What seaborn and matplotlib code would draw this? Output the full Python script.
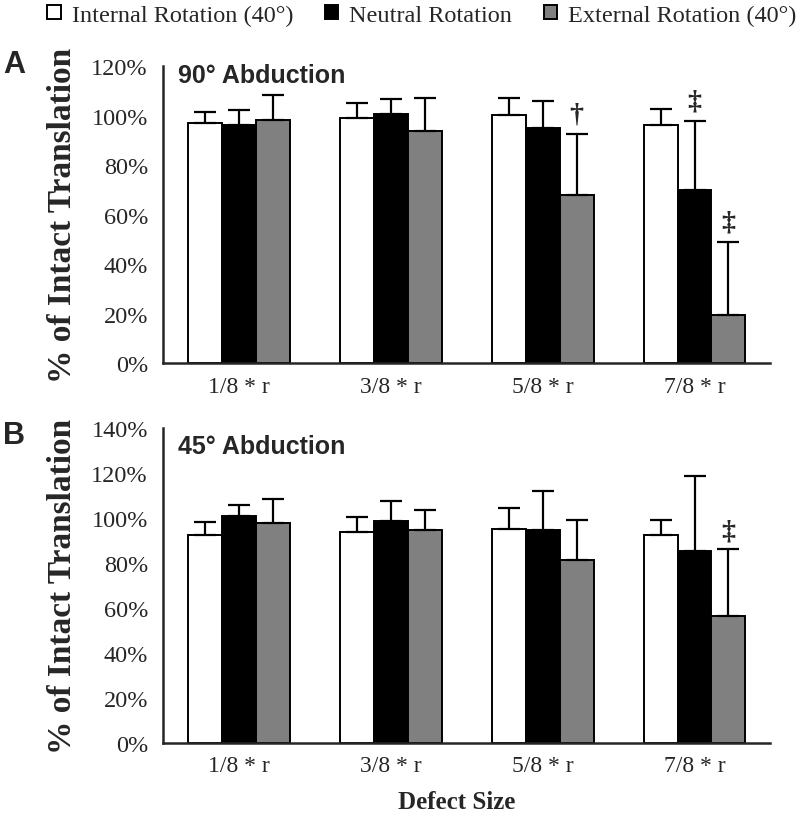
import numpy as np
import pandas as pd
import seaborn as sns
import matplotlib.pyplot as plt
from matplotlib.patches import Patch
from matplotlib.ticker import FixedLocator, PercentFormatter

sizes = ['1/8 * r', '3/8 * r', '5/8 * r', '7/8 * r']
rotations = ['Internal Rotation (40°)', 'Neutral Rotation', 'External Rotation (40°)']
colors = ['white', 'black', '#808080']

# Panel A - 90° abduction, mean and SD (% of intact translation)
abd90_internal = [97.0, 99.0, 100.3, 96.4]
abd90_neutral = [96.2, 100.6, 95.0, 70.0]
abd90_external = [98.2, 93.7, 67.8, 19.5]
abd90_internal_sd = [4.6, 6.0, 6.8, 6.4]
abd90_neutral_sd = [6.0, 6.0, 11.0, 28.0]
abd90_external_sd = [10.0, 13.5, 25.0, 29.5]
abd90_internal_sig = ['', '', '', '']
abd90_neutral_sig = ['', '', '', '‡']
abd90_external_sig = ['', '', '†', '‡']

# Panel B - 45° abduction
abd45_internal = [92.6, 93.9, 95.1, 92.4]
abd45_neutral = [100.7, 98.6, 94.7, 85.5]
abd45_external = [97.9, 94.5, 81.3, 56.4]
abd45_internal_sd = [5.6, 6.4, 9.2, 6.7]
abd45_neutral_sd = [5.3, 9.0, 17.4, 33.2]
abd45_external_sd = [10.5, 9.2, 17.8, 30.0]
abd45_internal_sig = ['', '', '', '']
abd45_neutral_sig = ['', '', '', '']
abd45_external_sig = ['', '', '', '‡']

serif = 'Liberation Serif'
sans = 'Liberation Sans'


def draw_panel(ax, means, sds, sigs, ymax, title):
    df = pd.DataFrame({
        'size': np.tile(sizes, 3),
        'rotation': np.repeat(rotations, 4),
        'value': np.concatenate(means),
    })
    sns.barplot(data=df, x='size', y='value', hue='rotation', order=sizes,
                hue_order=rotations, palette=colors, saturation=1, width=0.67,
                gap=0, edgecolor='black', linewidth=1.4, errorbar=None,
                legend=False, ax=ax)
    for cont, m, sd, sg in zip(ax.containers, means, sds, sigs):
        xs = [b.get_x() + b.get_width() / 2 for b in cont]
        ax.errorbar(xs, m, yerr=[np.zeros(len(m)), sd], fmt='none',
                    ecolor='black', elinewidth=1.6, capsize=8, capthick=1.6,
                    zorder=1)
        for x, top, s in zip(xs, np.add(m, sd), sg):
            if s:
                ax.text(x, top + 8, s, ha='center', va='center',
                        fontsize=20, fontweight='bold', family=serif)

    ax.set_xlim(-0.5, 3.5)
    ax.set_ylim(0, ymax)
    ax.set_yticks(np.arange(0, ymax + 1, 20))
    ax.yaxis.set_major_formatter(PercentFormatter(decimals=0))
    ax.xaxis.set_minor_locator(FixedLocator(np.arange(-0.5, 4, 1)))
    ax.tick_params(axis='x', which='major', length=0, pad=9, labelsize=17)
    ax.tick_params(axis='x', which='minor', length=5, width=1.8, direction='out')
    ax.tick_params(axis='y', length=5, width=1.8, pad=6, labelsize=17.5)
    for side in ['top', 'right']:
        ax.spines[side].set_visible(False)
    for side in ['left', 'bottom']:
        ax.spines[side].set_linewidth(1.8)
    ax.set_xlabel('')
    ax.set_ylabel('% of Intact Translation', fontsize=24, fontweight='bold')
    ax.yaxis.set_label_coords(-0.14, 0.5)
    ax.text(0.025, 1.01 if ymax == 120 else 0.98, title, transform=ax.transAxes,
            ha='left', va='top', fontsize=18, fontweight='bold', family=sans)


sns.set_style('white')
plt.rcParams['font.family'] = serif

fig = plt.figure(figsize=(8, 8.2), dpi=100)
ax_a = fig.add_axes([0.204, 0.556, 0.759, 0.362])
ax_b = fig.add_axes([0.204, 0.0927, 0.759, 0.384])

draw_panel(ax_a,
           [abd90_internal, abd90_neutral, abd90_external],
           [abd90_internal_sd, abd90_neutral_sd, abd90_external_sd],
           [abd90_internal_sig, abd90_neutral_sig, abd90_external_sig],
           120, '90° Abduction')
draw_panel(ax_b,
           [abd45_internal, abd45_neutral, abd45_external],
           [abd45_internal_sd, abd45_neutral_sd, abd45_external_sd],
           [abd45_internal_sig, abd45_neutral_sig, abd45_external_sig],
           140, '45° Abduction')

fig.text(0.004, 1 - 50 / 820, 'A', ha='left', va='top', fontsize=22,
         fontweight='bold', family=sans)
fig.text(0.004, 1 - 421 / 820, 'B', ha='left', va='top', fontsize=22,
         fontweight='bold', family=sans)
fig.text(457 / 800, 1 - 803 / 820, 'Defect Size', ha='center', va='center',
         fontsize=18, fontweight='bold')

handles = [Patch(facecolor=c, edgecolor='black', linewidth=1.4) for c in colors]
fig.legend(handles, rotations, loc='upper left', bbox_to_anchor=(0.038, 1.014),
           ncol=3, frameon=False, fontsize=17.5, handlelength=0.55,
           handleheight=0.55, handletextpad=0.45, columnspacing=1.3,
           borderpad=0.2)

fig.savefig('out.png', dpi=100)
